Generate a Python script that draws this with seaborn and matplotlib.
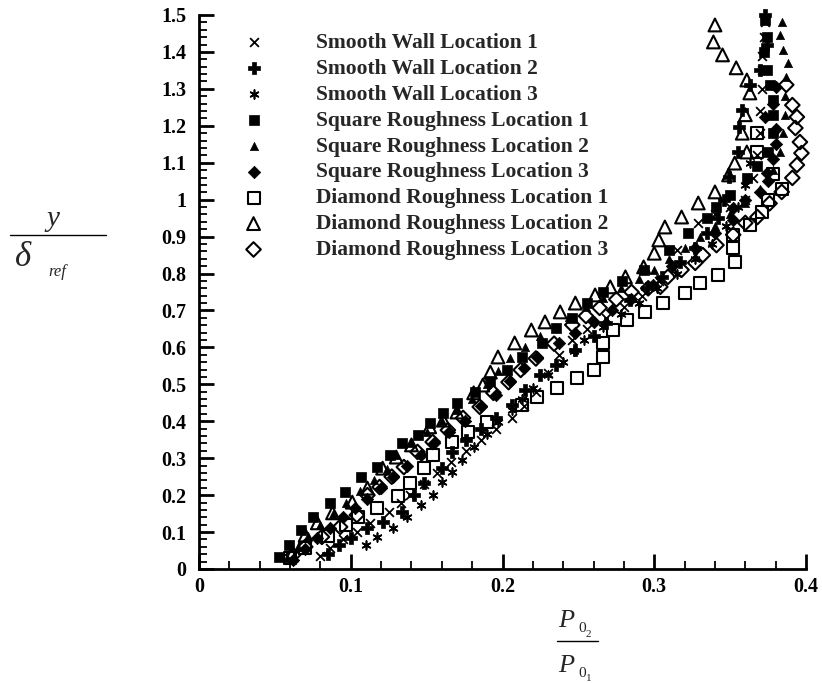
import matplotlib
matplotlib.use("Agg")
import matplotlib.pyplot as plt
from matplotlib.lines import Line2D
from matplotlib.ticker import MultipleLocator, FuncFormatter
import seaborn as sns
import pandas as pd

# ---------------- data ----------------
labels = ["Smooth Wall Location 1", "Smooth Wall Location 2", "Smooth Wall Location 3",
          "Square Roughness Location 1", "Square Roughness Location 2", "Square Roughness Location 3",
          "Diamond Roughness Location 1", "Diamond Roughness Location 2", "Diamond Roughness Location 3"]

sw1_x = [0.080, 0.086, 0.095, 0.104, 0.113, 0.125, 0.133, 0.139, 0.148, 0.157, 0.166, 0.176, 0.186, 0.196,
         0.206, 0.214, 0.222, 0.230, 0.237, 0.246, 0.256, 0.268, 0.280, 0.292, 0.303, 0.315, 0.329, 0.340,
         0.350, 0.360, 0.365, 0.368, 0.370, 0.370, 0.371, 0.371, 0.371, 0.372, 0.373]
sw1_y = [0.035, 0.057, 0.080, 0.100, 0.125, 0.155, 0.180, 0.200, 0.230, 0.260, 0.290, 0.320, 0.350, 0.380,
         0.410, 0.440, 0.480, 0.530, 0.580, 0.620, 0.650, 0.680, 0.710, 0.740, 0.780, 0.864, 0.937, 0.960,
         0.980, 1.000, 1.060, 1.120, 1.180, 1.240, 1.300, 1.350, 1.390, 1.440, 1.480]

sw2_x = [0.085, 0.092, 0.100, 0.111, 0.121, 0.134, 0.142, 0.148, 0.160, 0.167, 0.176, 0.186, 0.196, 0.206,
         0.215, 0.225, 0.235, 0.248, 0.260, 0.268, 0.284, 0.295, 0.305, 0.317, 0.327, 0.335, 0.342, 0.346,
         0.349, 0.355, 0.356, 0.358, 0.363, 0.370, 0.374, 0.373]
sw2_y = [0.040, 0.065, 0.085, 0.111, 0.127, 0.154, 0.200, 0.233, 0.273, 0.317, 0.350, 0.380, 0.410, 0.445,
         0.485, 0.525, 0.552, 0.593, 0.630, 0.666, 0.728, 0.760, 0.790, 0.830, 0.870, 0.910, 0.950, 1.000,
         1.062, 1.129, 1.197, 1.243, 1.310, 1.350, 1.420, 1.500]

sw3_x = [0.110, 0.117, 0.128, 0.137, 0.146, 0.154, 0.160, 0.167, 0.173, 0.181, 0.190, 0.197, 0.206, 0.213,
         0.220, 0.230, 0.240, 0.247, 0.254, 0.266, 0.278, 0.290, 0.302, 0.315, 0.327, 0.338, 0.347, 0.355,
         0.360, 0.363]
sw3_y = [0.065, 0.087, 0.111, 0.141, 0.173, 0.200, 0.236, 0.263, 0.295, 0.330, 0.365, 0.398, 0.431, 0.460,
         0.490, 0.525, 0.560, 0.590, 0.620, 0.655, 0.690, 0.720, 0.760, 0.800, 0.840, 0.880, 0.930, 0.980,
         1.040, 1.099]

sq1_x = [0.053, 0.059, 0.067, 0.075, 0.086, 0.096, 0.107, 0.117, 0.126, 0.134, 0.144, 0.152, 0.161, 0.170,
         0.182, 0.192, 0.203, 0.213, 0.226, 0.235, 0.246, 0.256, 0.266, 0.279, 0.293, 0.310, 0.322, 0.335,
         0.341, 0.350, 0.361, 0.368, 0.375, 0.378, 0.378, 0.378, 0.376, 0.374, 0.372, 0.374, 0.373]
sq1_y = [0.032, 0.065, 0.106, 0.141, 0.179, 0.209, 0.249, 0.276, 0.309, 0.341, 0.363, 0.395, 0.422, 0.449,
         0.479, 0.510, 0.539, 0.574, 0.612, 0.653, 0.680, 0.720, 0.750, 0.780, 0.810, 0.864, 0.910, 0.950,
         0.980, 1.013, 1.059, 1.090, 1.130, 1.180, 1.229, 1.270, 1.310, 1.350, 1.400, 1.440, 1.487]

sq2_x = [0.058, 0.065, 0.072, 0.080, 0.088, 0.097, 0.106, 0.115, 0.124, 0.130, 0.140, 0.150, 0.160, 0.170,
         0.180, 0.190, 0.197, 0.205, 0.215, 0.225, 0.235, 0.244, 0.255, 0.266, 0.278, 0.290, 0.300, 0.310,
         0.320, 0.330, 0.340, 0.350, 0.360, 0.370, 0.378, 0.383, 0.385, 0.386, 0.386, 0.387, 0.388, 0.385,
         0.383, 0.384]
sq2_y = [0.030, 0.060, 0.090, 0.120, 0.150, 0.180, 0.210, 0.240, 0.270, 0.309, 0.340, 0.370, 0.400, 0.430,
         0.460, 0.500, 0.535, 0.571, 0.600, 0.630, 0.655, 0.682, 0.710, 0.735, 0.760, 0.785, 0.810, 0.840,
         0.870, 0.900, 0.930, 0.960, 0.990, 1.030, 1.080, 1.130, 1.180, 1.230, 1.280, 1.332, 1.370, 1.405,
         1.446, 1.481]

sq3_x = [0.062, 0.070, 0.078, 0.086, 0.095, 0.103, 0.111, 0.120, 0.128, 0.137, 0.146, 0.155, 0.165, 0.175,
         0.186, 0.196, 0.205, 0.214, 0.223, 0.237, 0.248, 0.260, 0.272, 0.285, 0.299, 0.312, 0.327, 0.340,
         0.352, 0.352, 0.360, 0.370, 0.375, 0.374, 0.378, 0.380, 0.380, 0.373, 0.378, 0.380]
sq3_y = [0.025, 0.055, 0.085, 0.110, 0.140, 0.165, 0.190, 0.220, 0.250, 0.280, 0.310, 0.340, 0.370, 0.400,
         0.440, 0.470, 0.510, 0.545, 0.574, 0.612, 0.640, 0.670, 0.700, 0.730, 0.770, 0.820, 0.870, 0.910,
         0.945, 0.977, 0.999, 1.021, 1.050, 1.072, 1.110, 1.150, 1.190, 1.224, 1.260, 1.305]

dr1_x = [0.060, 0.070, 0.085, 0.097, 0.105, 0.117, 0.131, 0.139, 0.148, 0.154, 0.167, 0.177, 0.190, 0.213,
         0.223, 0.236, 0.249, 0.260, 0.266, 0.266, 0.273, 0.282, 0.294, 0.306, 0.320, 0.330, 0.342, 0.353,
         0.352, 0.352, 0.363, 0.371, 0.375, 0.384, 0.378, 0.368, 0.368]
dr1_y = [0.030, 0.057, 0.090, 0.120, 0.141, 0.165, 0.198, 0.233, 0.273, 0.309, 0.344, 0.371, 0.398, 0.444,
         0.466, 0.490, 0.517, 0.539, 0.574, 0.612, 0.647, 0.674, 0.696, 0.720, 0.747, 0.774, 0.796, 0.831,
         0.869, 0.904, 0.931, 0.967, 1.000, 1.030, 1.070, 1.130, 1.180]

dr2_x = [0.061, 0.070, 0.078, 0.088, 0.101, 0.111, 0.121, 0.130, 0.140, 0.152, 0.161, 0.170, 0.181, 0.187,
         0.192, 0.197, 0.208, 0.219, 0.228, 0.238, 0.248, 0.261, 0.271, 0.281, 0.293, 0.300, 0.303, 0.307,
         0.318, 0.329, 0.340, 0.349, 0.353, 0.361, 0.358, 0.360, 0.363, 0.361, 0.354, 0.345, 0.339, 0.340]
dr2_y = [0.038, 0.092, 0.125, 0.152, 0.181, 0.219, 0.273, 0.303, 0.336, 0.385, 0.403, 0.425, 0.477, 0.498,
         0.533, 0.574, 0.612, 0.647, 0.669, 0.696, 0.720, 0.742, 0.764, 0.791, 0.818, 0.855, 0.891, 0.926,
         0.953, 0.991, 1.021, 1.067, 1.099, 1.129, 1.180, 1.230, 1.289, 1.324, 1.357, 1.392, 1.427, 1.473]

dr3_x = [0.062, 0.070, 0.081, 0.093, 0.104, 0.111, 0.119, 0.127, 0.135, 0.144, 0.154, 0.164, 0.174, 0.185,
         0.194, 0.204, 0.212, 0.222, 0.234, 0.246, 0.255, 0.264, 0.275, 0.285, 0.296, 0.304, 0.309, 0.318,
         0.327, 0.332, 0.341, 0.352, 0.360, 0.368, 0.376, 0.384, 0.391, 0.394, 0.397, 0.396, 0.393, 0.394,
         0.391, 0.387]
dr3_y = [0.038, 0.060, 0.087, 0.114, 0.146, 0.200, 0.222, 0.250, 0.276, 0.317, 0.344, 0.376, 0.409, 0.439,
         0.477, 0.506, 0.539, 0.570, 0.610, 0.661, 0.685, 0.707, 0.730, 0.750, 0.760, 0.764, 0.791, 0.810,
         0.829, 0.850, 0.877, 0.905, 0.937, 0.953, 0.990, 1.021, 1.059, 1.094, 1.126, 1.156, 1.194, 1.224,
         1.256, 1.311]

series_x = [sw1_x, sw2_x, sw3_x, sq1_x, sq2_x, sq3_x, dr1_x, dr2_x, dr3_x]
series_y = [sw1_y, sw2_y, sw3_y, sq1_y, sq2_y, sq3_y, dr1_y, dr2_y, dr3_y]

x_ticks = [0, 0.1, 0.2, 0.3, 0.4]
y_ticks = [0, 0.1, 0.2, 0.3, 0.4, 0.5, 0.6, 0.7, 0.8, 0.9, 1.0, 1.1, 1.2, 1.3, 1.4, 1.5]

# ---------------- styles ----------------
styles = [
    dict(marker="x", s=40, facecolors="black", edgecolors="black", linewidths=1.3),
    dict(marker="P", s=70, facecolors="black", edgecolors="black", linewidths=0.5),
    dict(marker=(6, 2, 0), s=40, facecolors="black", edgecolors="black", linewidths=1.2),
    dict(marker="s", s=55, facecolors="black", edgecolors="black", linewidths=0.5),
    dict(marker="^", s=35, facecolors="black", edgecolors="black", linewidths=0.5),
    dict(marker="D", s=40, facecolors="black", edgecolors="black", linewidths=0.5),
    dict(marker="s", s=75, facecolors="none", edgecolors="black", linewidths=1.5),
    dict(marker="^", s=85, facecolors="none", edgecolors="black", linewidths=1.5),
    dict(marker="D", s=55, facecolors="none", edgecolors="black", linewidths=1.5),
]

sns.set_style("ticks")
plt.rcParams["font.family"] = ["Liberation Serif", "DejaVu Serif"]
plt.rcParams["mathtext.fontset"] = "stix"

W, H = 822, 684
fig = plt.figure(figsize=(W / 100, H / 100), dpi=100)
ax = fig.add_axes([199 / W, 1 - 569 / H, (806 - 199) / W, (569 - 15) / H])

for lab, xs, ys, st in zip(labels, series_x, series_y, styles):
    df = pd.DataFrame({"x": xs, "y": ys})
    sns.scatterplot(data=df, x="x", y="y", ax=ax, label=lab, clip_on=False, zorder=3, **st)

ax.set_xlim(0, 0.4)
ax.set_ylim(0, 1.5)
ax.set_xlabel("")
ax.set_ylabel("")
ax.set_xticks(x_ticks)
ax.set_yticks(y_ticks)
ax.xaxis.set_minor_locator(MultipleLocator(0.02))
ax.yaxis.set_minor_locator(MultipleLocator(0.02))
fmt = FuncFormatter(lambda v, p: ("%.1f" % v).rstrip("0").rstrip(".") if v != 0 else "0")
ax.xaxis.set_major_formatter(fmt)
ax.yaxis.set_major_formatter(fmt)
for sp in ["top", "right"]:
    ax.spines[sp].set_visible(False)
for sp in ["left", "bottom"]:
    ax.spines[sp].set_linewidth(2)
    ax.spines[sp].set_color("black")
ax.tick_params(which="major", direction="in", length=11, width=2, color="black")
ax.tick_params(which="minor", direction="in", length=6, width=1.3, color="black")
ax.tick_params(axis="x", which="major", pad=6)
ax.tick_params(axis="y", which="major", pad=9)
for t in ax.get_xticklabels() + ax.get_yticklabels():
    t.set_fontweight("bold")
    t.set_fontsize(14.5)
    t.set_color("black")

leg = ax.legend(loc="upper left", bbox_to_anchor=(232 / W, 1 - 33 / H),
                bbox_transform=fig.transFigure, frameon=False, borderpad=0, borderaxespad=0,
                handlelength=2.0, handletextpad=1.9, labelspacing=0.27,
                prop={"family": "Liberation Serif", "weight": "bold", "size": 15.5})

def px(x, y):
    return x / W, 1 - y / H

# y / delta_ref label
fig.text(*px(53, 219), "y", fontsize=21, style="italic", ha="center", va="center")
fig.add_artist(Line2D([10 / W, 106 / W], [1 - 235 / H, 1 - 235 / H], color="black", lw=1))
fig.text(*px(23, 257), "\u03b4", fontsize=25, style="italic", ha="center", va="center")
fig.text(*px(57, 272), "ref", fontsize=12, style="italic", ha="center", va="center")

# P02 / P01 label
fig.text(*px(558, 627), "P", fontsize=19, style="italic", ha="left", va="baseline")
fig.text(*px(578, 632), "0", fontsize=11, ha="left", va="baseline")
fig.text(*px(586, 637), "2", fontsize=8, ha="left", va="baseline")
fig.add_artist(Line2D([557 / W, 598 / W], [1 - 641 / H, 1 - 641 / H], color="black", lw=1))
fig.text(*px(558, 672), "P", fontsize=19, style="italic", ha="left", va="baseline")
fig.text(*px(578, 677), "0", fontsize=11, ha="left", va="baseline")
fig.text(*px(586, 681), "1", fontsize=8, ha="left", va="baseline")

fig.savefig("out.png", dpi=100)
